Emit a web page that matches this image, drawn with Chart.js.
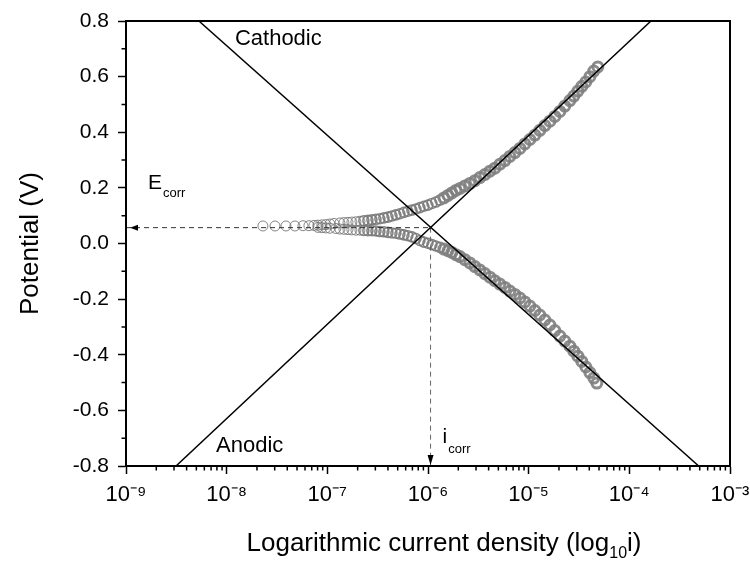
<!DOCTYPE html>
<html>
<head>
<meta charset="utf-8">
<script src="https://cdn.jsdelivr.net/npm/chart.js@4.4.1/dist/chart.umd.min.js"></script>
<style>
html,body{margin:0;padding:0;background:#fff;}
#wrap{width:750px;height:562px;position:relative;}
</style>
</head>
<body>
<div id="wrap"><canvas id="c" width="750" height="562"></canvas></div>
<script>
// ---- axis ticks ----
const xTickExponents = [-9, -8, -7, -6, -5, -4, -3];
const yTickValues = [-0.8, -0.6, -0.4, -0.2, 0.0, 0.2, 0.4, 0.6, 0.8];

// ---- measured polarisation data (log10 of current density, potential in V) ----
const anodicLogI = [-7.640,-7.520,-7.411,-7.322,-7.242,-7.183,-7.133,-7.093,-7.054,-7.014,-6.974,-6.934,
  -6.875,-6.835,-6.795,-6.756,-6.716,-6.676,-6.637,-6.597,-6.557,-6.517,-6.478,-6.438,-6.398,-6.358,-6.319,-6.279,
  -6.239,-6.200,-6.160,-6.120,-6.080,-6.041,-6.001,-5.961,-5.922,-5.882,-5.842,-5.802,-5.763,-5.723,-5.683,
  -5.634,-5.584,-5.534,-5.485,-5.435,-5.385,-5.336,-5.286,-5.236,-5.187,-5.137,-5.087,-5.038,-4.988,-4.938,-4.889,
  -4.839,-4.789,-4.740,-4.690,-4.641,-4.591,
  -4.551,-4.511,-4.472,-4.432,-4.392,-4.353,-4.313];
const anodicE = [0.063,0.063,0.063,0.063,0.064,0.064,0.065,0.066,0.067,0.068,0.070,0.072,
  0.074,0.075,0.076,0.077,0.078,0.080,0.082,0.083,0.085,0.087,0.089,0.092,0.095,0.099,0.103,0.107,
  0.112,0.116,0.120,0.124,0.129,0.134,0.138,0.144,0.149,0.156,0.164,0.173,0.182,0.191,0.198,
  0.207,0.216,0.226,0.237,0.248,0.260,0.271,0.285,0.298,0.313,0.327,0.342,0.358,0.374,0.390,0.407,
  0.424,0.440,0.457,0.475,0.494,0.514,
  0.530,0.548,0.565,0.581,0.600,0.620,0.635];

const cathodicLogI = [-7.093,-7.054,-7.014,-6.974,-6.915,
  -6.875,-6.835,-6.795,-6.756,-6.716,-6.676,-6.637,-6.597,-6.557,-6.517,-6.478,-6.438,-6.398,-6.358,-6.319,-6.279,
  -6.239,-6.200,-6.160,-6.120,-6.080,-6.041,-6.001,-5.961,-5.922,-5.882,-5.842,-5.802,-5.763,-5.723,-5.683,
  -5.634,-5.584,-5.534,-5.485,-5.435,-5.385,-5.336,-5.286,-5.236,-5.187,-5.137,-5.087,-5.038,-4.988,-4.938,-4.889,
  -4.839,-4.789,-4.740,-4.690,-4.641,-4.591,
  -4.551,-4.511,-4.472,-4.432,-4.392,-4.353,-4.323];
const cathodicE = [0.058,0.057,0.056,0.055,0.054,
  0.052,0.051,0.050,0.049,0.048,0.048,0.047,0.046,0.046,0.045,0.043,0.042,0.040,0.038,0.037,0.034,
  0.031,0.028,0.024,0.018,0.011,0.005,0.001,-0.004,-0.009,-0.014,-0.020,-0.026,-0.032,-0.040,-0.047,
  -0.058,-0.070,-0.083,-0.095,-0.108,-0.121,-0.134,-0.146,-0.158,-0.171,-0.183,-0.196,-0.210,-0.225,-0.241,-0.257,
  -0.275,-0.293,-0.313,-0.333,-0.351,-0.369,
  -0.387,-0.405,-0.424,-0.444,-0.464,-0.484,-0.502];

// ---- Tafel extrapolation lines (current density A, potential V) ----
const cathodicFitI = [5.30e-9, 4.89e-4];
const cathodicFitE = [0.8, -0.8];
const anodicFitI = [3.14e-9, 1.64e-4];
const anodicFitE = [-0.8, 0.8];

// ---- corrosion point ----
const Ecorr = 0.057;
const icorr = 1.06e-6;

const FAMILY = '"Liberation Sans", Arial, Helvetica, sans-serif';
const SUP = {'-':'\u207B','0':'\u2070','1':'\u00B9','2':'\u00B2','3':'\u00B3','4':'\u2074','5':'\u2075','6':'\u2076','7':'\u2077','8':'\u2078','9':'\u2079'};
const sup = n => String(n).split('').map(c => SUP[c]).join('');

const pts = (xs, ys, fx) => xs.map((v, i) => ({x: fx ? 10 ** v : v, y: ys[i]}));

// heavier marker strokes where the recorded points crowd together (style only)
const markerBorderWidth = c => {
  const v = c.raw ? c.raw.x : 0;
  return v > 1.4e-6 ? 3 : (v > 2.2e-7 ? 1.6 : 1);
};
const markerBorderColor = c => {
  const v = c.raw ? c.raw.x : 0;
  return v > 1.4e-6 ? 'rgba(128,128,128,0.9)' : 'rgba(120,120,120,0.9)';
};

const annot = {
  id: 'annot',
  afterDraw(chart) {
    const {ctx, chartArea: a, scales: {x, y}} = chart;
    ctx.save();
    // minor ticks
    ctx.strokeStyle = '#000';
    ctx.lineWidth = 1.5;
    ctx.beginPath();
    for (let n = xTickExponents[0]; n < xTickExponents[xTickExponents.length - 1]; n++) {
      for (let m = 2; m <= 9; m++) {
        const px = x.getPixelForValue(m * 10 ** n);
        ctx.moveTo(px, a.bottom);
        ctx.lineTo(px, a.bottom + 4.5);
      }
    }
    for (let i = 0; i < yTickValues.length - 1; i++) {
      const py = y.getPixelForValue((yTickValues[i] + yTickValues[i + 1]) / 2);
      ctx.moveTo(a.left - 4.5, py);
      ctx.lineTo(a.left, py);
    }
    ctx.stroke();
    // frame
    ctx.lineWidth = 2;
    ctx.strokeRect(a.left, a.top, a.right - a.left, a.bottom - a.top);

    // arrowheads
    const yE = y.getPixelForValue(Ecorr);
    const xI = x.getPixelForValue(icorr);
    ctx.fillStyle = '#000';
    ctx.beginPath();
    ctx.moveTo(a.left + 4, yE);
    ctx.lineTo(a.left + 12, yE - 3);
    ctx.lineTo(a.left + 12, yE + 3);
    ctx.closePath();
    ctx.fill();
    ctx.beginPath();
    ctx.moveTo(xI, a.bottom - 1);
    ctx.lineTo(xI - 3, a.bottom - 11);
    ctx.lineTo(xI + 3, a.bottom - 11);
    ctx.closePath();
    ctx.fill();

    // labels
    ctx.fillStyle = '#000';
    ctx.textBaseline = 'alphabetic';
    ctx.textAlign = 'left';
    ctx.font = '22px ' + FAMILY;
    ctx.fillText('Cathodic', x.getPixelForValue(cathodicFitI[0]) + 36, a.top + 24);
    ctx.fillText('Anodic', x.getPixelForValue(anodicFitI[0]) + 40, a.bottom - 14);

    ctx.font = '21px ' + FAMILY;
    ctx.fillText('E', a.left + 22, yE - 39);
    const wE = ctx.measureText('E').width;
    ctx.font = '13px ' + FAMILY;
    ctx.fillText('corr', a.left + 23 + wE, yE - 31);

    ctx.font = '21px ' + FAMILY;
    ctx.fillText('i', xI + 12, a.bottom - 23);
    const wi = ctx.measureText('i').width;
    ctx.font = '13px ' + FAMILY;
    ctx.fillText('corr', xI + 13 + wi, a.bottom - 13);

    // x axis title with real subscript
    const parts = [['Logarithmic current density (log', 26, 0], ['10', 16, 7], ['i)', 26, 0]];
    let total = 0;
    parts.forEach(p => { ctx.font = p[1] + 'px ' + FAMILY; total += ctx.measureText(p[0]).width; });
    let cx = (a.left + a.right) / 2 + 16 - total / 2;
    const base = 551;
    parts.forEach(p => {
      ctx.font = p[1] + 'px ' + FAMILY;
      ctx.fillText(p[0], cx, base + p[2]);
      cx += ctx.measureText(p[0]).width;
    });
    ctx.restore();
  }
};

const gridOpts = {drawOnChartArea: false, drawTicks: true, tickLength: 8, tickColor: '#000', tickWidth: 1.5, color: '#000'};
const borderOpts = {display: true, color: '#000', width: 2};

new Chart(document.getElementById('c'), {
  type: 'scatter',
  data: {
    datasets: [
      {label: 'Cathodic Tafel', data: pts(cathodicFitI, cathodicFitE, false), showLine: true,
       borderColor: '#000', borderWidth: 1.5, pointRadius: 0, fill: false},
      {label: 'Anodic Tafel', data: pts(anodicFitI, anodicFitE, false), showLine: true,
       borderColor: '#000', borderWidth: 1.5, pointRadius: 0, fill: false},
      {label: 'Ecorr', data: [{x: 10 ** xTickExponents[0], y: Ecorr}, {x: icorr, y: Ecorr}], showLine: true,
       borderColor: '#333', borderWidth: 1, borderDash: [5, 4], pointRadius: 0},
      {label: 'icorr', data: [{x: icorr, y: Ecorr}, {x: icorr, y: yTickValues[0]}], showLine: true,
       borderColor: '#666', borderWidth: 1, borderDash: [5, 4], pointRadius: 0},
      {label: 'Anodic data', data: pts(anodicLogI, anodicE, true), pointRadius: 5,
       pointBorderWidth: markerBorderWidth, pointBorderColor: markerBorderColor, pointBackgroundColor: 'rgba(0,0,0,0)'},
      {label: 'Cathodic data', data: pts(cathodicLogI, cathodicE, true), pointRadius: 5,
       pointBorderWidth: markerBorderWidth, pointBorderColor: markerBorderColor, pointBackgroundColor: 'rgba(0,0,0,0)'}
    ]
  },
  options: {
    responsive: false,
    animation: false,
    devicePixelRatio: 1,
    layout: {padding: {left: 0, right: 20, top: 21, bottom: 0}},
    plugins: {legend: {display: false}, tooltip: {enabled: false}},
    scales: {
      x: {
        type: 'logarithmic', min: 10 ** xTickExponents[0], max: 10 ** xTickExponents[xTickExponents.length - 1],
        afterBuildTicks: s => { s.ticks = xTickExponents.map(e => ({value: 10 ** e})); },
        afterFit: s => { s.height = 96; s.paddingRight = 0; s.paddingLeft = 0; },
        ticks: {callback: v => '10' + sup(Math.round(Math.log10(v))), font: {family: FAMILY, size: 22},
                color: '#000', padding: 8, maxRotation: 0, autoSkip: false},
        grid: gridOpts, border: borderOpts
      },
      y: {
        min: yTickValues[0], max: yTickValues[yTickValues.length - 1],
        afterBuildTicks: s => { s.ticks = yTickValues.map(v => ({value: v})); },
        afterFit: s => { s.width = 126; s.paddingTop = 0; s.paddingBottom = 0; },
        ticks: {callback: v => (Math.abs(v) < 1e-9 ? 0 : v).toFixed(1), font: {family: FAMILY, size: 21},
                color: '#000', padding: 9},
        grid: gridOpts, border: borderOpts,
        title: {display: true, text: 'Potential (V)', font: {family: FAMILY, size: 26}, color: '#000',
                padding: {top: 15, bottom: 0}}
      }
    }
  },
  plugins: [annot]
});
</script>
</body>
</html>
